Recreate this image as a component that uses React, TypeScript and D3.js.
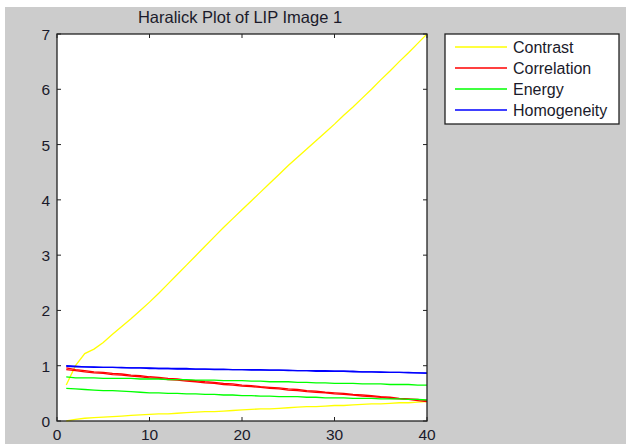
import React from "react";
import * as d3 from "d3";

const lags = d3.range(1, 41);
const contrastA = [0.65,1.0,1.22,1.3,1.42,1.57,1.71,1.85,2.0,2.15,2.31,2.48,2.65,2.82,2.99,3.16,3.33,3.5,3.66,3.82,3.98,4.14,4.3,4.46,4.62,4.77,4.92,5.07,5.22,5.37,5.53,5.68,5.84,6.0,6.17,6.33,6.5,6.66,6.83,7.0];
const contrastB = [0.0,0.03,0.05,0.06,0.07,0.08,0.09,0.1,0.11,0.12,0.13,0.13,0.14,0.15,0.16,0.17,0.17,0.18,0.19,0.2,0.21,0.22,0.22,0.23,0.24,0.25,0.26,0.26,0.27,0.28,0.28,0.29,0.3,0.31,0.31,0.32,0.33,0.33,0.34,0.35];
const correlationA = [0.96,0.93,0.91,0.89,0.88,0.86,0.85,0.83,0.82,0.8,0.79,0.77,0.76,0.74,0.73,0.71,0.7,0.68,0.67,0.65,0.64,0.62,0.61,0.6,0.58,0.57,0.55,0.54,0.52,0.51,0.5,0.48,0.47,0.46,0.44,0.43,0.41,0.4,0.39,0.37];
const correlationB = [0.93,0.91,0.89,0.87,0.86,0.84,0.83,0.81,0.8,0.78,0.77,0.75,0.74,0.72,0.71,0.69,0.68,0.66,0.65,0.63,0.62,0.61,0.59,0.58,0.56,0.55,0.53,0.52,0.51,0.49,0.48,0.47,0.45,0.44,0.43,0.41,0.4,0.39,0.37,0.35];
const energyA = [0.8,0.78,0.78,0.78,0.77,0.77,0.77,0.77,0.76,0.76,0.76,0.75,0.75,0.75,0.74,0.74,0.74,0.73,0.73,0.73,0.72,0.72,0.71,0.71,0.71,0.7,0.7,0.69,0.69,0.68,0.68,0.68,0.67,0.67,0.67,0.66,0.66,0.66,0.65,0.65];
const energyB = [0.59,0.58,0.57,0.56,0.55,0.55,0.54,0.53,0.52,0.51,0.51,0.5,0.5,0.49,0.49,0.48,0.48,0.47,0.47,0.46,0.46,0.45,0.45,0.44,0.44,0.44,0.43,0.43,0.42,0.42,0.42,0.41,0.41,0.41,0.4,0.4,0.4,0.39,0.39,0.38];
const homogeneityA = [1.0,0.99,0.98,0.98,0.97,0.97,0.97,0.96,0.96,0.96,0.95,0.95,0.95,0.95,0.94,0.94,0.94,0.94,0.93,0.93,0.93,0.93,0.92,0.92,0.92,0.91,0.91,0.91,0.91,0.9,0.9,0.9,0.89,0.89,0.89,0.88,0.88,0.88,0.87,0.87];
const homogeneityB = [0.99,0.98,0.98,0.97,0.97,0.97,0.96,0.96,0.96,0.95,0.95,0.95,0.94,0.94,0.94,0.94,0.93,0.93,0.93,0.93,0.92,0.92,0.92,0.92,0.91,0.91,0.91,0.9,0.9,0.9,0.9,0.89,0.89,0.89,0.88,0.88,0.88,0.87,0.87,0.86];

const legendNames = ["Contrast", "Correlation", "Energy", "Homogeneity"];
const legendColors = ["#ffff00", "#ff0000", "#00ff00", "#0000ff"];
const seriesList = [
  { values: contrastA, color: "#ffff00" },
  { values: contrastB, color: "#ffff00" },
  { values: correlationA, color: "#ff0000" },
  { values: correlationB, color: "#ff0000" },
  { values: energyA, color: "#00ff00" },
  { values: energyB, color: "#00ff00" },
  { values: homogeneityA, color: "#0000ff" },
  { values: homogeneityB, color: "#0000ff" },
];
const xTicks = [0, 10, 20, 30, 40];
const yTicks = [0, 1, 2, 3, 4, 5, 6, 7];
const title = "Haralick Plot of LIP Image 1";

export default function App() {
  const W = 626, H = 444;
  const left = 57, right = 427, top = 34, bottom = 421;
  const x = d3.scaleLinear().domain([0, 40]).range([left, right]);
  const y = d3.scaleLinear().domain([0, 7]).range([bottom, top]);
  const line = d3.line<number>().x((_, i) => x(lags[i])).y((d) => y(d));
  const font = "'Liberation Sans', Arial, sans-serif";
  const axisColor = "#222";
  const textColor = "#1a1a2a";
  const tl = 4;
  return (
    <svg width={W} height={H} style={{ position: "absolute", left: 0, top: 0 }} fontFamily={font}>
      <rect x={0} y={0} width={W} height={H} fill="#ffffff" />
      <rect x={5} y={7} width={W - 5} height={H - 7} fill="#cccccc" />
      <rect x={left} y={top} width={right - left} height={bottom - top} fill="#ffffff" />
      <text x={(left + right) / 2 - 2} y={23} textAnchor="middle" fontSize={16.5} fill={textColor}>{title}</text>
      {seriesList.map((s, i) => (
        <path key={i} d={line(s.values) || ""} fill="none" stroke={s.color} strokeWidth={1.3} />
      ))}
      <rect x={left} y={top} width={right - left} height={bottom - top} fill="none" stroke={axisColor} strokeWidth={1.3} />
      {xTicks.map((t) => (
        <g key={"x" + t}>
          <line x1={x(t)} x2={x(t)} y1={bottom} y2={bottom - tl} stroke={axisColor} />
          <line x1={x(t)} x2={x(t)} y1={top} y2={top + tl} stroke={axisColor} />
          <text x={x(t)} y={bottom + 19} textAnchor="middle" fontSize={15.5} fill={textColor}>{t}</text>
        </g>
      ))}
      {yTicks.map((t) => (
        <g key={"y" + t}>
          <line x1={left} x2={left + tl} y1={y(t)} y2={y(t)} stroke={axisColor} />
          <line x1={right} x2={right - tl} y1={y(t)} y2={y(t)} stroke={axisColor} />
          <text x={left - 7} y={y(t) + 6} textAnchor="end" fontSize={15.5} fill={textColor}>{t}</text>
        </g>
      ))}
      <rect x={445} y={34} width={174} height={90} fill="#ffffff" stroke={axisColor} strokeWidth={1.3} />
      {legendNames.map((n, i) => {
        const yy = 47 + i * 21;
        return (
          <g key={n}>
            <line x1={455} x2={507} y1={yy} y2={yy} stroke={legendColors[i]} strokeWidth={1.3} />
            <text x={513} y={yy + 6} fontSize={16} fill={textColor}>{n}</text>
          </g>
        );
      })}
    </svg>
  );
}
